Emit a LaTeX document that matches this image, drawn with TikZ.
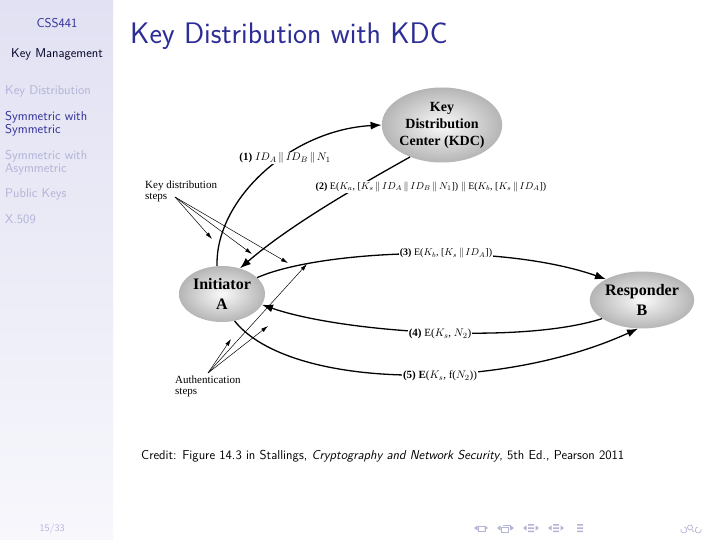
\documentclass[tikz,border=0pt]{standalone}
\usepackage{fontspec}
\newfontfamily\figfont{Liberation Serif}
\usetikzlibrary{shapes.geometric,arrows.meta}
\definecolor{sbtop}{RGB}{225,225,243}
\definecolor{sbbot}{RGB}{247,247,252}
\definecolor{struct}{RGB}{45,45,150}
\definecolor{dimc}{RGB}{178,178,215}
\definecolor{navc}{RGB}{180,180,215}
\begin{document}
\begin{tikzpicture}[x=1pt,y=-1pt,
  sbtxt/.style={inner sep=0pt,font=\sffamily\fontsize{12.8}{13.5}\selectfont},
  ent/.style={ellipse,inner sep=0pt,shading=radial,inner color=gray!4,outer color=gray!58,
    font=\figfont\bfseries\fontsize{16}{20}\selectfont,align=center},
  lbl/.style={inner sep=1pt,fill=white,font=\figfont\fontsize{11}{13}\selectfont},
  note/.style={inner sep=0pt,align=left,font=\figfont\fontsize{11}{11}\selectfont},
  flow/.style={line width=1.3pt,-{Latex[length=11pt,width=8pt]}},
  thin/.style={line width=0.5pt,-{Latex[length=7pt,width=4pt]}}
]
\useasboundingbox (0,0) rectangle (720,540);
\fill[white] (0,0) rectangle (720,540);
\shade[top color=sbtop,bottom color=sbbot] (0,0) rectangle (113,540);

% sidebar
\node[sbtxt,text=struct,anchor=base] (css) at (57,28) {CSS441};
\node[sbtxt,text=black!85!blue,anchor=base] (km) at (57,58) {Key Management};
\node[sbtxt,text=dimc,anchor=base west] (kd) at (5,95) {Key Distribution};
\node[sbtxt,text=struct,anchor=base west,align=left] (sws) at (5,134) {Symmetric with\\Symmetric};
\node[sbtxt,text=dimc,anchor=base west,align=left] (swa) at (5,173) {Symmetric with\\Asymmetric};
\node[sbtxt,text=dimc,anchor=base west] (pk) at (5,198) {Public Keys};
\node[sbtxt,text=dimc,anchor=base west] (x5) at (5,223) {X.509};
\node[inner sep=0pt,text=dimc,anchor=base,font=\sffamily\fontsize{10}{10}\selectfont] (pg) at (52,531) {15/33};

% title
\node[inner sep=0pt,anchor=base west,text=struct,font=\sffamily\fontsize{29.7}{30}\selectfont] (title) at (130,44) {Key Distribution with KDC};

% entities
\node[ent,minimum width=100pt,minimum height=75pt,font=\figfont\bfseries\fontsize{14}{17}\selectfont] (kdc) at (442,125) {Key\\Distribution\\Center (KDC)};
\node[ent,minimum width=86pt,minimum height=56pt] (A) at (222,294) {Initiator\\A};
\node[ent,minimum width=84pt,minimum height=57pt] (B) at (642,300) {Responder\\B};

% flows
\draw[flow] (A.100) .. controls (215,200) and (290,130) .. (kdc.west);
\draw[flow] (kdc.225) .. controls (360,185) and (290,225) .. (A.55);
\draw[flow] (A.25) .. controls (320,250) and (500,242) .. (B.150);
\draw[flow] (B.205) .. controls (520,345) and (340,332) .. (A.345);
\draw[flow] (A.295) .. controls (290,390) and (500,392) .. (B.262);

% labels
\node[lbl] (l1) at (285,158) {\textbf{(1)} $ID_A\,\|\,ID_B\,\|\,N_1$};
\node[lbl,font=\figfont\fontsize{10}{12}\selectfont] (l2) at (431,187) {\textbf{(2)} E($K_a$, [$K_s\,\|\,ID_A\,\|\,ID_B\,\|\,N_1$]) $\|$ E($K_b$, [$K_s\,\|\,ID_A$])};
\node[lbl,font=\figfont\fontsize{10}{12}\selectfont] (l3) at (446,253) {\textbf{(3)} E($K_b$, [$K_s\,\|\,ID_A$])};
\node[lbl] (l4) at (440,334) {\textbf{(4)} E($K_s$, $N_2$)};
\node[lbl] (l5) at (440,376) {\textbf{(5)} \textbf{E}($K_s$, f($N_2$))};

% annotations
\node[note,anchor=north west] (kds) at (145,181) {Key distribution\\steps};
\coordinate (kdo) at (175,197);
\coordinate (k1) at (212,239);
\coordinate (k2) at (252,254);
\coordinate (k3) at (288,263);
\draw[thin] (kdo) -- (k1);
\draw[thin] (kdo) -- (k2);
\draw[thin] (kdo) -- (k3);

\node[note,anchor=north west] (aus) at (175,376) {Authentication\\steps};
\coordinate (auo) at (208,373);
\coordinate (a1) at (231,339);
\coordinate (a2) at (268,326);
\coordinate (a3) at (307,264);
\draw[thin] (auo) -- (a1);
\draw[thin] (auo) -- (a2);
\draw[thin] (auo) -- (a3);

% credit
\node[inner sep=0pt,anchor=base west,font=\sffamily\fontsize{12.9}{13}\selectfont] (credit) at (141,459)
  {Credit: Figure 14.3 in Stallings, \textit{Cryptography and Network Security}, 5th Ed., Pearson 2011};

% navigation symbols
\foreach \x in {474,497,523,548} {\fill[navc] (\x,528) -- ++(3.5,-2.5) -- ++(0,5) -- cycle;}
\foreach \x in {488,514,539,564} {\fill[navc] (\x,528) -- ++(-3.5,-2.5) -- ++(0,5) -- cycle;}
\draw[navc,line width=0.6pt] (478,526) rectangle (485,531);
\draw[navc,line width=0.6pt] (501,527) rectangle (508,532) (503,525) -- (510,525) -- (510,530);
\foreach \x in {531,556,580} {\fill[navc] (\x-3,524) rectangle (\x+3,525.5) (\x-3,527.3) rectangle (\x+3,528.8) (\x-3,530.6) rectangle (\x+3,532);}
\draw[navc,line width=0.7pt] (681,529) arc (200:-80:3) (690,527.5) circle (2.5) (692,530) -- (694,532) (701,529) arc (-20:260:3);
\end{tikzpicture}
\end{document}
